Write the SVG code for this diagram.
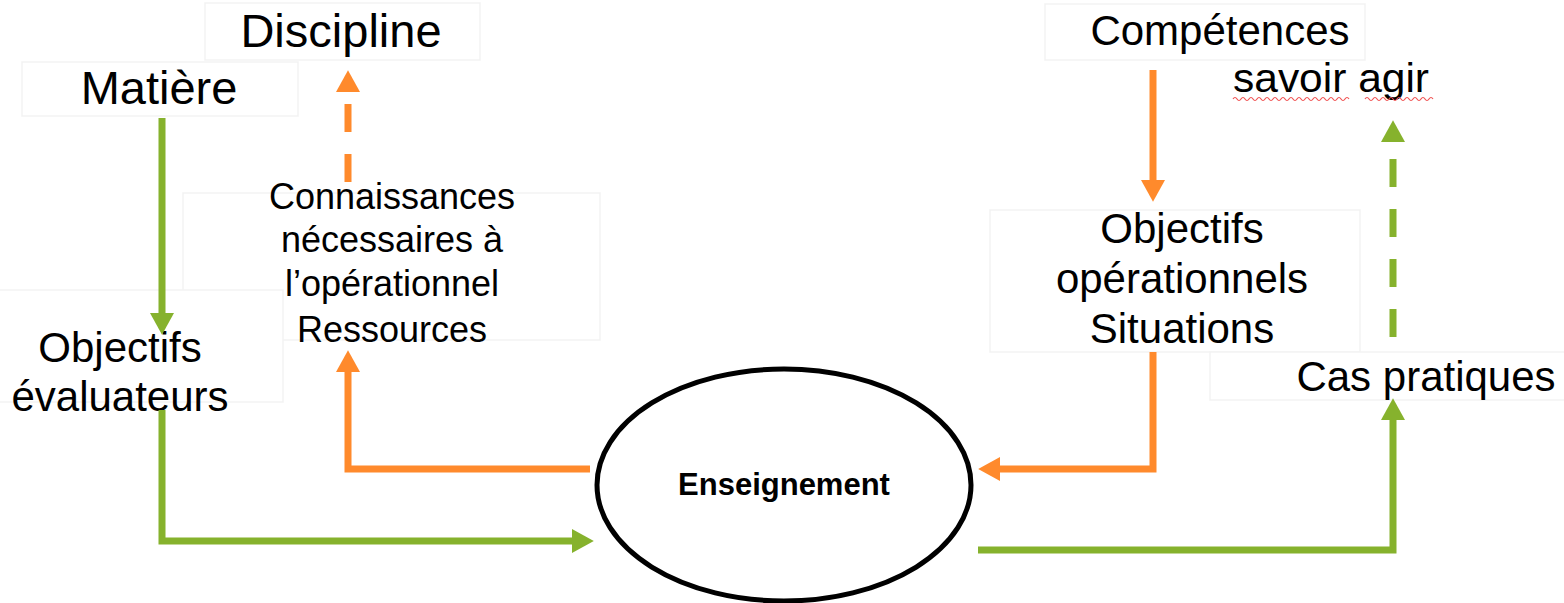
<svg xmlns="http://www.w3.org/2000/svg" width="1564" height="603" viewBox="0 0 1564 603">
<style>
.t{font-family:"Liberation Sans",Arial,sans-serif;fill:#000;text-anchor:middle}
.box{fill:#fff;stroke:#f3f3f3;stroke-width:1.5}
.g{fill:none;stroke:#86b22d;stroke-width:7}
.o{fill:none;stroke:#ff8a2c;stroke-width:7}
.dash{stroke-dasharray:28 22}
</style>
<defs>
<marker id="ag" markerUnits="userSpaceOnUse" markerWidth="22" markerHeight="24" refX="0" refY="11" orient="auto" viewBox="0 0 20 22"><path d="M0,0 L20,11 L0,22 z" fill="#86b22d"/></marker>
<marker id="ao" markerUnits="userSpaceOnUse" markerWidth="22" markerHeight="24" refX="0" refY="11" orient="auto" viewBox="0 0 20 22"><path d="M0,0 L20,11 L0,22 z" fill="#ff8a2c"/></marker>
</defs>
<rect width="1564" height="603" fill="#fff"/>
<g id="n-discipline"><rect class="box" x="205" y="3" width="275" height="57"/><text class="t" x="341" y="47" font-size="47">Discipline</text></g>
<g id="n-matiere"><rect class="box" x="22" y="62" width="276" height="54"/><text class="t" x="159" y="104" font-size="47">Matière</text></g>
<g id="n-connaissances"><rect class="box" x="183" y="193" width="417" height="147"/>
<text class="t" font-size="36"><tspan x="392" y="209">Connaissances</tspan><tspan x="392" y="252">nécessaires à</tspan><tspan x="392" y="296">l’opérationnel</tspan><tspan x="392" y="342">Ressources</tspan></text></g>
<g id="n-objeval"><rect class="box" x="-2" y="290" width="285" height="112"/>
<text class="t" font-size="42"><tspan x="120" y="362">Objectifs</tspan><tspan x="120" y="411">évaluateurs</tspan></text></g>
<g id="n-competences"><rect class="box" x="1045" y="4" width="320" height="56"/><text class="t" x="1220" y="45" font-size="42">Compétences</text></g>
<g id="n-savoir"><text class="t" x="1331" y="92" font-size="40" textLength="196" lengthAdjust="spacingAndGlyphs">savoir agir</text>
<path d="M1233,99 q2,-3 4,0 t4,0 t4,0 t4,0 t4,0 t4,0 t4,0 t4,0 t4,0 t4,0 t4,0 t4,0 t4,0 t4,0 t4,0 t4,0 t4,0 t4,0 t4,0 t4,0 t4,0 t4,0 t4,0 t4,0 t4,0 t4,0 t4,0 t4,0 t4,0 M1365,99 q2,-3 4,0 t4,0 t4,0 t4,0 t4,0 t4,0 t4,0 t4,0 t4,0 t4,0 t4,0 t4,0 t4,0 t4,0 t4,0 t4,0 t4,0" fill="none" stroke="#f05050" stroke-width="1.2"/></g>
<g id="n-objop"><rect class="box" x="990" y="210" width="370" height="142"/>
<text class="t" font-size="42"><tspan x="1182" y="243">Objectifs</tspan><tspan x="1182" y="293">opérationnels</tspan><tspan x="1182" y="343">Situations</tspan></text></g>
<g id="n-cas"><rect class="box" x="1210" y="352" width="356" height="48"/><text class="t" x="1426" y="391" font-size="42">Cas pratiques</text></g>
<g id="n-enseignement"><ellipse cx="784" cy="485" rx="187" ry="116" fill="#fff" stroke="#000" stroke-width="5"/><text class="t" x="784" y="495" font-size="31" font-weight="bold">Enseignement</text></g>
<g id="connectors">
<path class="g" d="M162,118 V313" marker-end="url(#ag)"/>
<path class="g" d="M162,410 V541 H572" marker-end="url(#ag)"/>
<path class="o" d="M590,469 H348 V372" marker-end="url(#ao)"/>
<path class="o dash" d="M348,182 V92" marker-end="url(#ao)"/>
<path class="o" d="M1153,70 V180" marker-end="url(#ao)"/>
<path class="o" d="M1153,352 V469 H1000" marker-end="url(#ao)"/>
<path class="g" d="M978,550 H1393 V420" marker-end="url(#ag)"/>
<path class="g dash" d="M1393,337 V142" marker-end="url(#ag)"/>
</g>
</svg>
